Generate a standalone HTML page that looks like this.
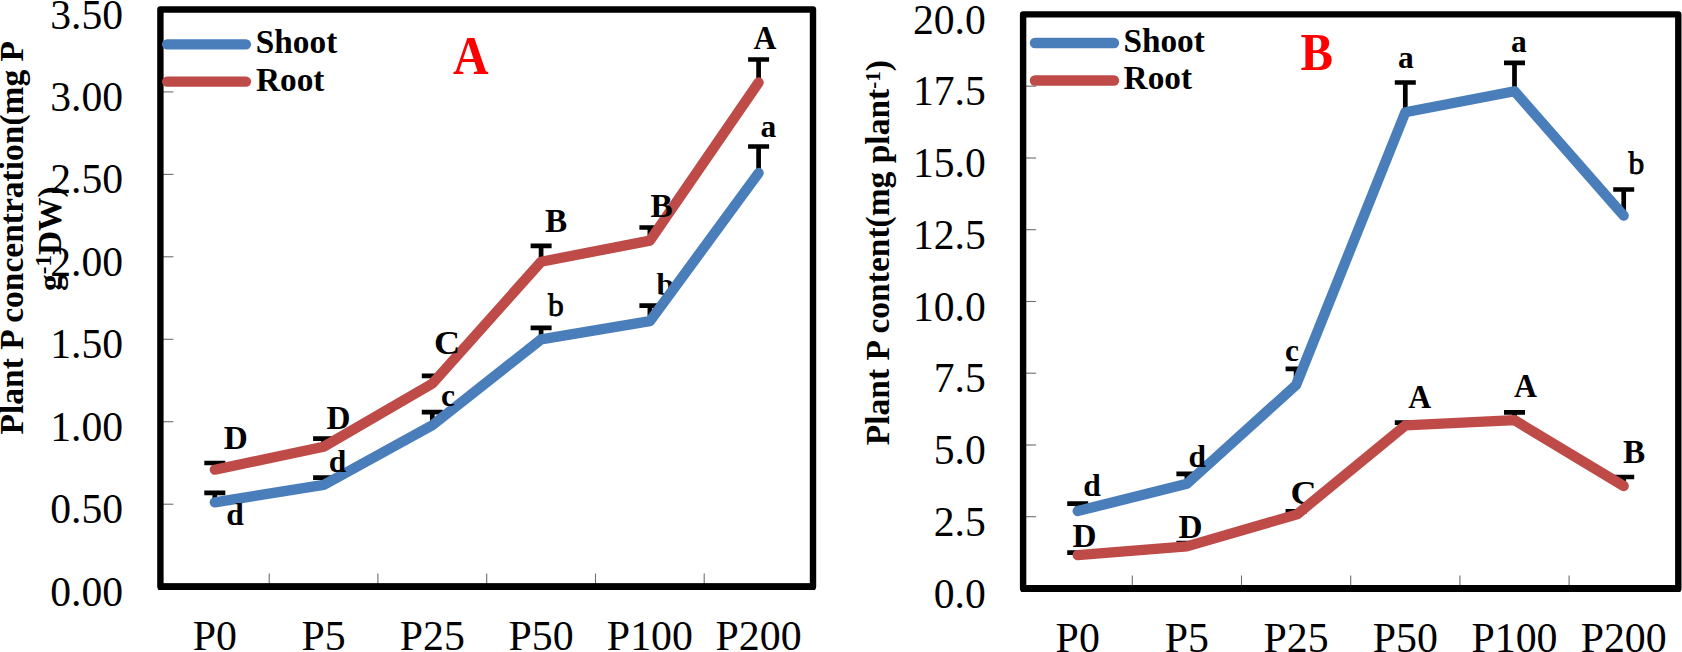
<!DOCTYPE html>
<html lang="en"><head><meta charset="utf-8"><title>Plant P concentration and content</title>
<style>
html,body{margin:0;padding:0;background:#fff;}
body{width:1682px;height:652px;overflow:hidden;}
svg{display:block;font-family:"Liberation Serif",serif;}
</style></head><body>
<svg width="1682" height="652" viewBox="0 0 1682 652">
<rect width="1682" height="652" fill="#fff"/>
<g stroke="#6e6e6e" stroke-width="1.1">
<line x1="269.2" y1="586.6" x2="269.2" y2="573.6"/>
<line x1="377.9" y1="586.6" x2="377.9" y2="573.6"/>
<line x1="486.7" y1="586.6" x2="486.7" y2="573.6"/>
<line x1="595.5" y1="586.6" x2="595.5" y2="573.6"/>
<line x1="704.2" y1="586.6" x2="704.2" y2="573.6"/>
<line x1="160.4" y1="586.6" x2="173.4" y2="586.6"/>
<line x1="160.4" y1="504.2" x2="173.4" y2="504.2"/>
<line x1="160.4" y1="421.7" x2="173.4" y2="421.7"/>
<line x1="160.4" y1="339.3" x2="173.4" y2="339.3"/>
<line x1="160.4" y1="256.8" x2="173.4" y2="256.8"/>
<line x1="160.4" y1="174.4" x2="173.4" y2="174.4"/>
<line x1="160.4" y1="91.9" x2="173.4" y2="91.9"/>
<line x1="160.4" y1="9.5" x2="173.4" y2="9.5"/>
</g>
<rect x="160.4" y="9.5" width="652.6" height="577.1" fill="none" stroke="#000" stroke-width="6.4" stroke-linejoin="round"/>
<line x1="158.2" y1="586.6" x2="815.2" y2="586.6" stroke="#000" stroke-width="6.8"/>
<g stroke="#000" stroke-width="4.7" fill="none">
<path d="M204.3 492.8H225.3M214.8 492.8V502.3"/>
<path d="M313.1 477.7H334.1M323.6 477.7V484.9"/>
<path d="M421.8 412.1H442.8M432.3 412.1V425.2"/>
<path d="M530.6 327.9H551.6M541.1 327.9V339.4"/>
<path d="M639.4 305.6H660.4M649.9 305.6V321.2"/>
<path d="M748.1 146.5H769.1M758.6 146.5V173.0"/>
<path d="M204.3 463.0H225.3M214.8 463.0V469.7"/>
<path d="M313.1 438.7H334.1M323.6 438.7V446.7"/>
<path d="M421.8 375.9H442.8M432.3 375.9V383.6"/>
<path d="M530.6 245.8H551.6M541.1 245.8V261.8"/>
<path d="M639.4 227.5H660.4M649.9 227.5V240.6"/>
<path d="M748.1 59.5H769.1M758.6 59.5V82.5"/>
</g>
<text x="656.5" y="295.2" font-size="31.5" font-weight="bold" fill="#000">b</text>
<polyline points="214.8,502.3 323.6,484.9 432.3,425.2 541.1,339.4 649.9,321.2 758.6,173.0" fill="none" stroke="#4a7ebb" stroke-width="10.3" stroke-linecap="round" stroke-linejoin="round"/>
<polyline points="214.8,469.7 323.6,446.7 432.3,383.6 541.1,261.8 649.9,240.6 758.6,82.5" fill="none" stroke="#be4b48" stroke-width="10.3" stroke-linecap="round" stroke-linejoin="round"/>
<line x1="167.1" y1="44.3" x2="246" y2="44.3" stroke="#4a7ebb" stroke-width="10.3" stroke-linecap="round"/>
<line x1="167.1" y1="81.6" x2="246" y2="81.6" stroke="#be4b48" stroke-width="10.3" stroke-linecap="round"/>
<text x="255.8" y="53" font-size="33.3" font-weight="bold">Shoot</text>
<text x="256.0" y="90.9" font-size="33.3" font-weight="bold">Root</text>
<text transform="translate(123.1,605.6) scale(0.98,1)" font-size="42.5" text-anchor="end">0.00</text>
<text transform="translate(123.1,523.2) scale(0.98,1)" font-size="42.5" text-anchor="end">0.50</text>
<text transform="translate(123.1,440.7) scale(0.98,1)" font-size="42.5" text-anchor="end">1.00</text>
<text transform="translate(123.1,358.3) scale(0.98,1)" font-size="42.5" text-anchor="end">1.50</text>
<text transform="translate(123.1,275.8) scale(0.98,1)" font-size="42.5" text-anchor="end">2.00</text>
<text transform="translate(123.1,193.4) scale(0.98,1)" font-size="42.5" text-anchor="end">2.50</text>
<text transform="translate(123.1,110.9) scale(0.98,1)" font-size="42.5" text-anchor="end">3.00</text>
<text transform="translate(123.1,28.5) scale(0.98,1)" font-size="42.5" text-anchor="end">3.50</text>
<text transform="translate(214.8,650.0) scale(0.985,1)" font-size="42.5" text-anchor="middle">P0</text>
<text transform="translate(323.6,650.0) scale(0.985,1)" font-size="42.5" text-anchor="middle">P5</text>
<text transform="translate(432.3,650.0) scale(0.985,1)" font-size="42.5" text-anchor="middle">P25</text>
<text transform="translate(541.1,650.0) scale(0.985,1)" font-size="42.5" text-anchor="middle">P50</text>
<text transform="translate(649.9,650.0) scale(0.985,1)" font-size="42.5" text-anchor="middle">P100</text>
<text transform="translate(758.6,650.0) scale(0.985,1)" font-size="42.5" text-anchor="middle">P200</text>
<text x="223.8" y="449.0" font-size="33.3" font-weight="bold" fill="#000">D</text>
<text x="226.2" y="525.2" font-size="31.5" font-weight="bold" fill="#000">d</text>
<text x="326.6" y="429.0" font-size="33.3" font-weight="bold" fill="#000">D</text>
<text x="328.7" y="472.4" font-size="31.5" font-weight="bold" fill="#000">d</text>
<text transform="translate(433.9,353.7) scale(1.085,1)" font-size="33.3" font-weight="bold" fill="#000">C</text>
<text x="440.9" y="406.3" font-size="31.5" font-weight="bold" fill="#000">c</text>
<text x="545.0" y="231.7" font-size="33.3" font-weight="bold" fill="#000">B</text>
<text x="547.9" y="315.7" font-size="31.5" font-weight="normal" stroke="#000" stroke-width="0.8" fill="#000">b</text>
<text x="650.6" y="216.9" font-size="33.3" font-weight="bold" fill="#000">B</text>
<text transform="translate(753.5,49.1) scale(0.955,1)" font-size="33.3" font-weight="bold" fill="#000">A</text>
<text x="760.4" y="136.5" font-size="31.5" font-weight="bold" fill="#000">a</text>
<text transform="translate(453.0,73.7) scale(0.966,1.056)" font-size="51" font-weight="bold" fill="#ff0000">A</text>
<text transform="translate(22.6,434.5) rotate(-90)" font-size="33.5" font-weight="bold">Plant P concentration(mg P</text>
<text transform="translate(60.7,291) rotate(-90)" font-size="33.5" font-weight="bold">g<tspan font-size="23" dy="-9.5">-1</tspan><tspan dy="9.5">DW)</tspan></text>
<g stroke="#6e6e6e" stroke-width="1.1">
<line x1="1132.3" y1="588.5" x2="1132.3" y2="575.5"/>
<line x1="1241.5" y1="588.5" x2="1241.5" y2="575.5"/>
<line x1="1350.7" y1="588.5" x2="1350.7" y2="575.5"/>
<line x1="1459.9" y1="588.5" x2="1459.9" y2="575.5"/>
<line x1="1569.1" y1="588.5" x2="1569.1" y2="575.5"/>
<line x1="1023.1" y1="588.5" x2="1036.1" y2="588.5"/>
<line x1="1023.1" y1="516.7" x2="1036.1" y2="516.7"/>
<line x1="1023.1" y1="445.0" x2="1036.1" y2="445.0"/>
<line x1="1023.1" y1="373.2" x2="1036.1" y2="373.2"/>
<line x1="1023.1" y1="301.5" x2="1036.1" y2="301.5"/>
<line x1="1023.1" y1="229.7" x2="1036.1" y2="229.7"/>
<line x1="1023.1" y1="158.0" x2="1036.1" y2="158.0"/>
<line x1="1023.1" y1="86.2" x2="1036.1" y2="86.2"/>
<line x1="1023.1" y1="14.5" x2="1036.1" y2="14.5"/>
</g>
<rect x="1023.1" y="14.4" width="655.2" height="574.0" fill="none" stroke="#000" stroke-width="6.4" stroke-linejoin="round"/>
<line x1="1020.9" y1="588.5" x2="1680.5" y2="588.5" stroke="#000" stroke-width="6.8"/>
<g stroke="#000" stroke-width="4.7" fill="none">
<path d="M1067.2 503.7H1088.2M1077.7 503.7V511.1"/>
<path d="M1176.4 473.8H1197.4M1186.9 473.8V483.8"/>
<path d="M1285.6 368.8H1306.6M1296.1 368.8V385.0"/>
<path d="M1394.8 82.5H1415.8M1405.3 82.5V112.3"/>
<path d="M1504.0 62.8H1525.0M1514.5 62.8V91.2"/>
<path d="M1613.2 189.5H1634.2M1623.7 189.5V215.7"/>
<path d="M1067.2 552.6H1088.2M1077.7 552.6V555.1"/>
<path d="M1176.4 543.2H1197.4M1186.9 543.2V546.4"/>
<path d="M1285.6 511.4H1306.6M1296.1 511.4V514.4"/>
<path d="M1394.8 422.7H1415.8M1405.3 422.7V425.4"/>
<path d="M1504.0 412.4H1525.0M1514.5 412.4V420.2"/>
<path d="M1613.2 477.0H1634.2M1623.7 477.0V486.0"/>
</g>
<text transform="translate(1290.5,504.0) scale(1.085,1)" font-size="33.3" font-weight="bold" fill="#000">C</text>
<polyline points="1077.7,511.1 1186.9,483.8 1296.1,385.0 1405.3,112.3 1514.5,91.2 1623.7,215.7" fill="none" stroke="#4a7ebb" stroke-width="10.3" stroke-linecap="round" stroke-linejoin="round"/>
<polyline points="1077.7,555.1 1186.9,546.4 1297.0,514.4 1405.3,425.4 1514.5,420.2 1623.7,486.0" fill="none" stroke="#be4b48" stroke-width="10.3" stroke-linecap="round" stroke-linejoin="round"/>
<line x1="1034.9" y1="43" x2="1114" y2="43" stroke="#4a7ebb" stroke-width="10.3" stroke-linecap="round"/>
<line x1="1034.9" y1="80.5" x2="1114" y2="80.5" stroke="#be4b48" stroke-width="10.3" stroke-linecap="round"/>
<text x="1123.4" y="52" font-size="33.3" font-weight="bold">Shoot</text>
<text x="1123.6" y="88.8" font-size="33.3" font-weight="bold">Root</text>
<text transform="translate(985.8,607.5) scale(0.98,1)" font-size="42.5" text-anchor="end">0.0</text>
<text transform="translate(985.8,535.7) scale(0.98,1)" font-size="42.5" text-anchor="end">2.5</text>
<text transform="translate(985.8,464.0) scale(0.98,1)" font-size="42.5" text-anchor="end">5.0</text>
<text transform="translate(985.8,392.2) scale(0.98,1)" font-size="42.5" text-anchor="end">7.5</text>
<text transform="translate(985.8,320.5) scale(0.98,1)" font-size="42.5" text-anchor="end">10.0</text>
<text transform="translate(985.8,248.7) scale(0.98,1)" font-size="42.5" text-anchor="end">12.5</text>
<text transform="translate(985.8,177.0) scale(0.98,1)" font-size="42.5" text-anchor="end">15.0</text>
<text transform="translate(985.8,105.2) scale(0.98,1)" font-size="42.5" text-anchor="end">17.5</text>
<text transform="translate(985.8,33.5) scale(0.98,1)" font-size="42.5" text-anchor="end">20.0</text>
<text transform="translate(1077.7,651.9) scale(0.985,1)" font-size="42.5" text-anchor="middle">P0</text>
<text transform="translate(1186.9,651.9) scale(0.985,1)" font-size="42.5" text-anchor="middle">P5</text>
<text transform="translate(1296.1,651.9) scale(0.985,1)" font-size="42.5" text-anchor="middle">P25</text>
<text transform="translate(1405.3,651.9) scale(0.985,1)" font-size="42.5" text-anchor="middle">P50</text>
<text transform="translate(1514.5,651.9) scale(0.985,1)" font-size="42.5" text-anchor="middle">P100</text>
<text transform="translate(1623.7,651.9) scale(0.985,1)" font-size="42.5" text-anchor="middle">P200</text>
<text x="1083.2" y="496.3" font-size="31.5" font-weight="bold" fill="#000">d</text>
<text x="1072.5" y="547.0" font-size="33.3" font-weight="bold" fill="#000">D</text>
<text x="1188.4" y="466.9" font-size="31.5" font-weight="bold" fill="#000">d</text>
<text x="1178.6" y="538.0" font-size="33.3" font-weight="bold" fill="#000">D</text>
<text x="1285.1" y="361.3" font-size="31.5" font-weight="bold" fill="#000">c</text>
<text x="1397.9" y="68.3" font-size="31.5" font-weight="bold" fill="#000">a</text>
<text transform="translate(1408.3,408.0) scale(0.955,1)" font-size="33.3" font-weight="bold" fill="#000">A</text>
<text x="1511.1" y="51.5" font-size="31.5" font-weight="bold" fill="#000">a</text>
<text transform="translate(1513.9,396.8) scale(0.955,1)" font-size="33.3" font-weight="bold" fill="#000">A</text>
<text x="1628.6" y="173.6" font-size="31.5" font-weight="normal" stroke="#000" stroke-width="0.8" fill="#000">b</text>
<text x="1623.1" y="462.8" font-size="33.3" font-weight="bold" fill="#000">B</text>
<text transform="translate(1300.4,70.1) scale(0.955,1.026)" font-size="51" font-weight="bold" fill="#ff0000">B</text>
<text transform="translate(889,445.2) rotate(-90)" font-size="33.5" font-weight="bold">Plant P content(mg plant<tspan font-size="21" dy="-9.5">-1</tspan><tspan dy="9.5">)</tspan></text>
</svg>
</body></html>
